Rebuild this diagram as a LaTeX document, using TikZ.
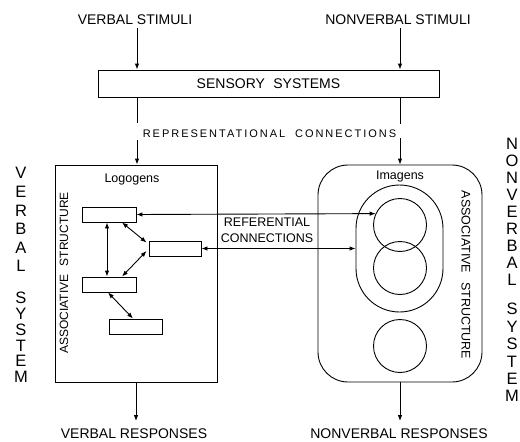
\documentclass[tikz,border=0pt]{standalone}
\usepackage{fontspec}
\setmainfont{Liberation Sans}
\usetikzlibrary{arrows.meta,calc}
\begin{document}
\begin{tikzpicture}[x=1pt,y=-1pt, line width=0.9pt,
  arr/.style={-{Latex[length=6pt,width=4.5pt]}},
  darr/.style={{Latex[length=6pt,width=4.5pt]}-{Latex[length=6pt,width=4.5pt]}},
  lbl/.style={inner sep=0pt, outer sep=3pt, font=\fontsize{14}{16}\selectfont},
  box/.style={draw, inner sep=0pt},
  logo/.style={draw, minimum height=15pt, inner sep=0pt},
  circ/.style={draw, circle, minimum size=53pt, inner sep=0pt},
  col/.style={inner sep=0pt, align=center}]
\useasboundingbox (0,0) rectangle (520,442);

% helper x positions
\coordinate (xl) at (137,0);
\coordinate (xr) at (400,0);
\coordinate (rl) at (137,123);
\coordinate (rr) at (400,124);
\coordinate (rl2) at (137,140);
\coordinate (rr2) at (400,138);

% stimuli
\node[lbl] (vs) at (135,20) {VERBAL STIMULI};
\node[lbl] (nvs) at (398,20) {NONVERBAL STIMULI};
\node[box, minimum width=341pt, minimum height=27pt, font=\fontsize{14}{16}\selectfont] (sens) at (268.5,83.5) {SENSORY\hspace{0.6em}SYSTEMS};
\draw[arr] (vs.south -| xl) -- (sens.north -| xl);
\draw[arr] (nvs.south -| xr) -- (sens.north -| xr);

% representational connections
\node[inner sep=0pt, font=\fontsize{11}{13}\selectfont\addfontfeature{LetterSpace=18}] (rep) at (269.5,133.5) {REPRESENTATIONAL\hspace{0.9em}CONNECTIONS};
\draw (sens.south -| xl) -- (rl);
\draw (sens.south -| xr) -- (rr);

% system boxes
\node[box, minimum width=162pt, minimum height=217pt] (lbox) at (136,273.5) {};
\node[box, rounded corners=30pt, minimum width=164pt, minimum height=217pt] (rbox) at (400,273.5) {};
\draw[arr] (rl2) -- (lbox.north -| xl);
\draw[arr] (rr2) -- (rbox.north -| xr);

\node[inner sep=0pt, font=\fontsize{12.5}{14}\selectfont] (logt) at (132,179) {Logogens};
\node[inner sep=0pt, font=\fontsize{12.5}{14}\selectfont] (imgt) at (400,176.5) {Imagens};

% associative structure labels
\node[inner sep=0pt, rotate=90, font=\fontsize{12}{14}\selectfont] (asl) at (64,273) {ASSOCIATIVE\hspace{0.7em}STRUCTURE};
\node[inner sep=0pt, rotate=-90, font=\fontsize{12.5}{14}\selectfont] (asr) at (466,275) {ASSOCIATIVE\hspace{0.7em}STRUCTURE};

% logogens
\node[logo, minimum width=54pt] (r1) at (109,214.5) {};
\node[logo, minimum width=52pt] (r2) at (175,248.5) {};
\node[logo, minimum width=54pt] (r3) at (109,284.5) {};
\node[logo, minimum width=53pt] (r4) at (135.5,326.5) {};
\draw[darr] ([xshift=-2pt]r1.south) -- ([xshift=-2pt]r3.north);
\draw[darr] ([xshift=13pt]r1.south) -- ([xshift=-2pt,yshift=-2pt]r2.north west);
\draw[darr] ([xshift=-2pt,yshift=-2.5pt]r2.west) -- ([xshift=13pt]r3.north);
\draw[darr] ([xshift=-1pt]r3.south) -- ([xshift=-2.5pt]r4.north);

% imagens
\node[draw, rounded corners=43.5pt, minimum width=87pt, minimum height=127pt, inner sep=0pt] (oval) at (399.5,248.5) {};
\node[circ] (c1) at (400,225) {};
\node[circ] (c2) at (400,268) {};
\node[circ] (c3) at (400,346) {};

% referential connections
\draw[darr] (r1.east) -- (c1.155);
\draw[darr] (r2.east) -- (oval.west);
\node[inner sep=0pt, align=center, font=\fontsize{12.5}{16}\selectfont] (ref) at (267,230.5) {REFERENTIAL\\CONNECTIONS};

% responses
\node[lbl] (vr) at (134,434) {VERBAL RESPONSES};
\node[lbl] (nvr) at (399,434) {NONVERBAL RESPONSES};
\draw[arr] (lbox.south) -- ($(vr.north -| lbox.south)+(0,-5)$);
\draw[arr] (rbox.south) -- ($(nvr.north -| rbox.south)+(0,-5)$);

% system column labels
\node[col, anchor=north, font=\fontsize{16.5}{18.6}\selectfont] (vsys) at (21,167)
  {V\\E\\R\\B\\A\\L\\[13.2pt]S\\[-2.8pt]Y\\[-2.8pt]S\\[-2.8pt]T\\[-2.8pt]E\\[-2.8pt]M};
\node[col, anchor=north, font=\fontsize{16.5}{16.9}\selectfont] (nsys) at (512,138)
  {N\\O\\N\\V\\E\\R\\B\\A\\L\\[12.9pt]S\\[0.5pt]Y\\[0.5pt]S\\[0.5pt]T\\[0.5pt]E\\[0.5pt]M};
\end{tikzpicture}
\end{document}
